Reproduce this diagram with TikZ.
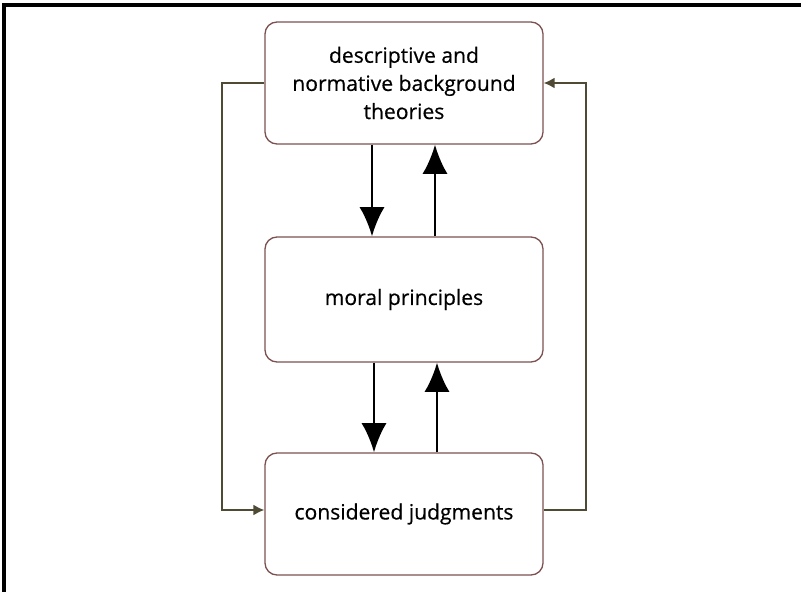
\documentclass[tikz,border=0pt]{standalone}
\usepackage{fontspec}
\setmainfont{Open Sans}[UprightFeatures={FakeBold=0.5}]
\usetikzlibrary{arrows.meta,positioning,calc}
\definecolor{boxred}{RGB}{125,80,80}
\definecolor{loopolive}{RGB}{78,74,52}

\begin{document}
\begin{tikzpicture}[x=0.03cm,y=-0.03cm,
	every node/.style={font=\fontsize{18}{24}\selectfont},
	stage/.style={draw=boxred,line width=1.1pt,rounded corners=0.36cm,
		minimum width=8.34cm,minimum height=3.66cm,align=center,inner sep=0pt},
	flow/.style={line width=2.2pt,-{Latex[length=0.88cm,width=0.76cm]}},
	loop/.style={draw=loopolive,line width=1.5pt,-{Latex[length=0.33cm,width=0.33cm]}}]
	
	\useasboundingbox (0,0) rectangle (801,592);
	% frame (only top and left edge visible)
	\draw[line width=3pt] (4,592) -- (4,5) -- (801,5);
	
	% the three levels
	\node[stage] (theo) at (404,83) {descriptive and\\normative background\\theories};
	\node[stage,minimum height=3.75cm] (prin) at (404,299.5) {moral principles};
	\node[stage] (judg) at (404,514) {considered judgments};
	
	% mutual adjustment between levels
	\draw[flow] (theo.south -| 372,0) -- (prin.north -| 372,0);
	\draw[flow] (prin.north -| 435,0) -- (theo.south -| 435,0);
	\draw[flow] (prin.south -| 374,0) -- (judg.north -| 374,0);
	\draw[flow] (judg.north -| 437,0) -- (prin.south -| 437,0);
	
	% outer loops
	\coordinate (ltop) at (222,83);
	\coordinate (lbot) at (222,510);
	\coordinate (rbot) at (586,510);
	\coordinate (rtop) at (586,83);
	\draw[loop] (theo.west) -- (ltop) -- (lbot) -- (lbot -| judg.west);
	\draw[loop] (lbot -| judg.east) -- (rbot) -- (rtop) -- (theo.east);
	
\end{tikzpicture}
\end{document}
